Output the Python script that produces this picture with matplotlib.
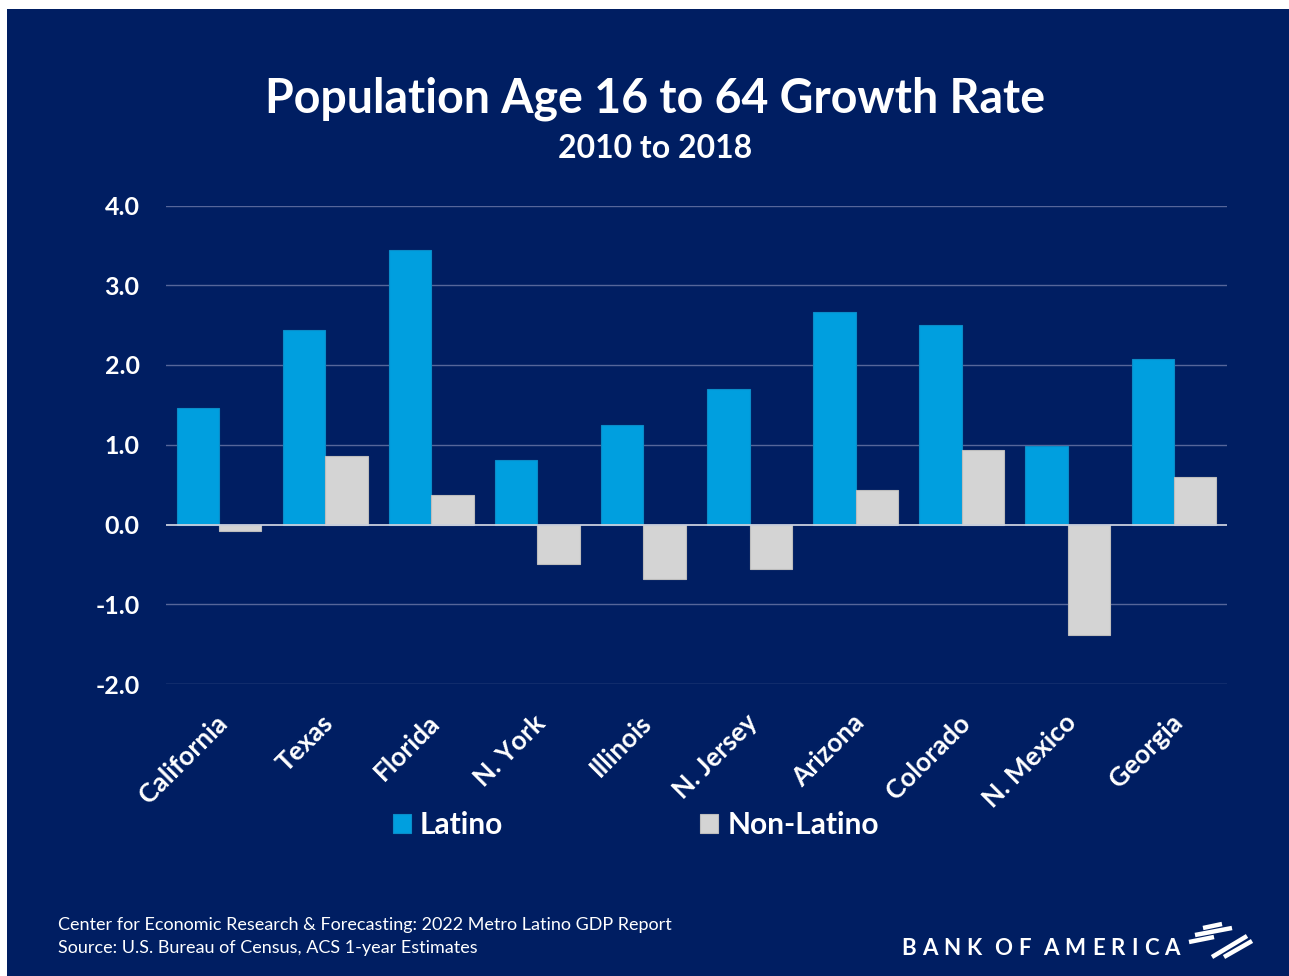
import matplotlib
matplotlib.use('Agg')
import matplotlib.pyplot as plt
import numpy as np
from matplotlib.patches import Rectangle
from matplotlib.lines import Line2D

states = ['California', 'Texas', 'Florida', 'N. York', 'Illinois',
          'N. Jersey', 'Arizona', 'Colorado', 'N. Mexico', 'Georgia']
latino = [1.46, 2.44, 3.44, 0.81, 1.25, 1.70, 2.66, 2.50, 0.98, 2.08]
non_latino = [-0.08, 0.86, 0.37, -0.49, -0.68, -0.56, 0.43, 0.94, -1.38, 0.59]
yticks = [-2.0, -1.0, 0.0, 1.0, 2.0, 3.0, 4.0]

navy = '#001E62'
blue = '#009FDF'
grey = '#D4D4D4'
font = 'Lato'

W, H = 1289, 976
fig = plt.figure(figsize=(W / 100, H / 100), dpi=100, facecolor='white')

def fx(px):
    return px / W

def fy(py):
    return 1 - py / H

# navy panel (thin white margin on top/left like the source slide)
fig.patches.append(Rectangle((fx(7), 0), 1, fy(9), transform=fig.transFigure,
                             facecolor=navy, edgecolor='none', zorder=-10))

ax = fig.add_axes([fx(166), fy(684), fx(1227) - fx(166), fy(205.5) - fy(684)])
ax.set_facecolor('none')
ax.set_zorder(1)

x = np.arange(len(states))
w = 0.4
ax.bar(x - w / 2, latino, w, color=blue, edgecolor='#0A8CC8', linewidth=0.8,
       label='Latino', zorder=3)
ax.bar(x + w / 2, non_latino, w, color=grey, edgecolor='#BDBDBD', linewidth=0.8,
       label='Non-Latino', zorder=3)

ax.set_xlim(-0.5, len(states) - 0.5)
ax.set_ylim(-2.0, 4.0)
ax.set_yticks(yticks)
ax.set_yticklabels(['%.1f' % v for v in yticks])
for v in yticks:
    if v == 0:
        ax.axhline(v, color='#C9CFDD', linewidth=1.3, zorder=4)
    else:
        ax.axhline(v, color='#56669A', linewidth=1.0, zorder=1)

for s in ax.spines.values():
    s.set_visible(False)
ax.tick_params(axis='y', length=0, pad=19, labelcolor='white', labelsize=18)
ax.tick_params(axis='x', length=0, pad=0)
ax.set_xticks(x)
ax.set_xticklabels([])
for lbl in ax.get_yticklabels():
    lbl.set_fontfamily(font)
    lbl.set_fontweight('bold')

# rotated category labels
for i, name in enumerate(states):
    ax.annotate(name, xy=(i, -2.0), xycoords='data', xytext=(-3, -19),
                textcoords='offset points', rotation=45, rotation_mode='anchor',
                ha='right', va='top', color='white', fontsize=19,
                fontweight='bold', family=font, annotation_clip=False)

# titles
fig.text(fx(655), fy(112.5), 'Population Age 16 to 64 Growth Rate', ha='center',
         va='baseline', color='white', fontsize=33.5, fontweight='bold', family=font)
fig.text(fx(655), fy(158), '2010 to 2018', ha='center', va='baseline',
         color='white', fontsize=23, fontweight='bold', family=font)

# legend
leg = fig.legend(loc='center', bbox_to_anchor=(fx(636), fy(825)), ncol=2,
                 frameon=False, handlelength=0.6, handleheight=0.6,
                 handletextpad=0.3, columnspacing=6.6,
                 prop={'family': font, 'weight': 'bold', 'size': 21.5})
for t in leg.get_texts():
    t.set_color('white')

# footer
fig.text(fx(58), fy(930), 'Center for Economic Research & Forecasting: 2022 Metro Latino GDP Report',
         ha='left', va='baseline', color='white', fontsize=13, family=font)
fig.text(fx(58), fy(953), 'Source: U.S. Bureau of Census, ACS 1-year Estimates',
         ha='left', va='baseline', color='white', fontsize=13, family=font)

# wordmark with wide letter spacing
word = 'BANK OF AMERICA'
x0, x1 = 901, 1180
renderer = fig.canvas.get_renderer()
widths = []
for ch in word:
    t = fig.text(0, 0, ch if ch != ' ' else 'n', fontsize=16, fontweight='bold', family=font)
    widths.append(t.get_window_extent(renderer).width if ch != ' ' else 0.0)
    t.remove()
gap = (x1 - x0 - sum(widths)) / (len(word) - 1)
cur = x0
for ch, wd in zip(word, widths):
    if ch != ' ':
        fig.text(fx(cur), fy(955), ch, ha='left', va='baseline', color='white',
                 fontsize=16, fontweight='bold', family=font)
    cur += wd + gap

# flag logo
strokes = [((1203, 928), (1222, 924)),
           ((1195, 935), (1232, 928)),
           ((1189, 942), (1214, 937)),
           ((1212, 957), (1247, 936)),
           ((1224, 957), (1252, 941))]
for (a, b) in strokes:
    fig.lines.append(Line2D([fx(a[0]), fx(b[0])], [fy(a[1]), fy(b[1])],
                            transform=fig.transFigure, color='white',
                            linewidth=3.2, solid_capstyle='butt'))

fig.savefig('out.png', dpi=100, facecolor=fig.get_facecolor())
